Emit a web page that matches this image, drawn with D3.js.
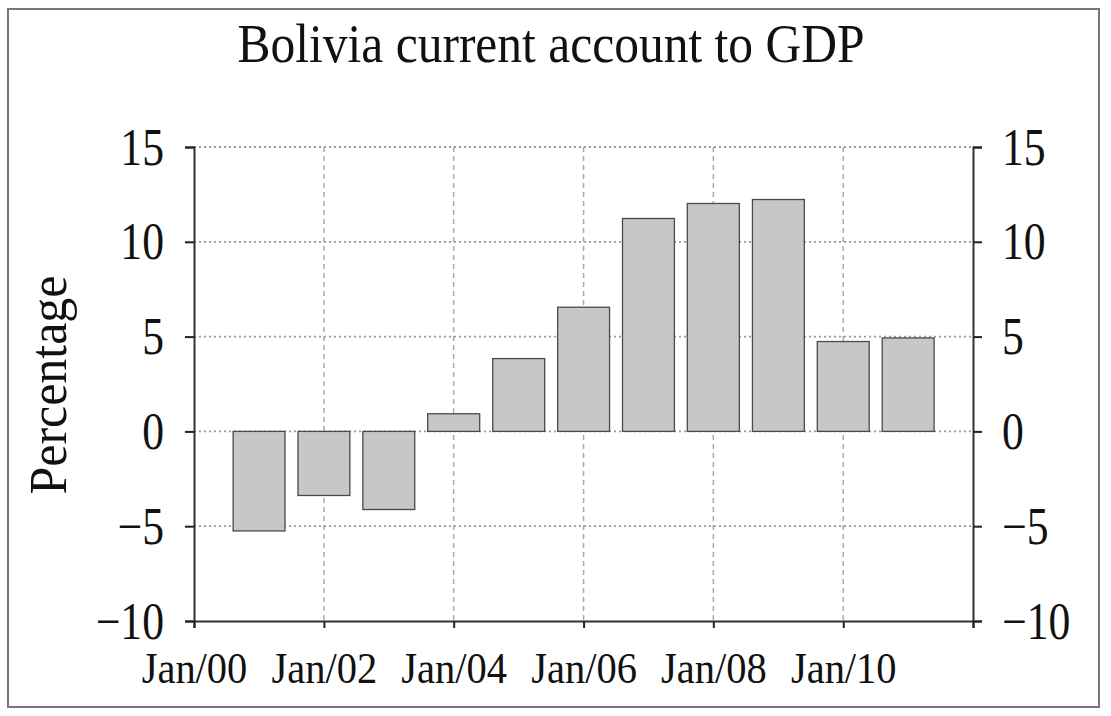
<!DOCTYPE html>
<html>
<head>
<meta charset="utf-8">
<script src="https://cdn.jsdelivr.net/npm/d3@7"></script>
<style>
  body { margin: 0; background: #fff; }
  text { font-family: "Liberation Serif", "Times New Roman", serif; fill: #111; }
</style>
</head>
<body>
<svg id="chart"></svg>
<script>
// data
const years = [2001, 2002, 2003, 2004, 2005, 2006, 2007, 2008, 2009, 2010, 2011];
const values = [-5.25, -3.38, -4.12, 0.93, 3.84, 6.55, 11.23, 12.02, 12.23, 4.74, 4.93];
const yTicks = [-10, -5, 0, 5, 10, 15];
const xTickYears = [2000, 2002, 2004, 2006, 2008, 2010, 2012];
const xLabelYears = [2000, 2002, 2004, 2006, 2008, 2010];

const width = 1111, height = 716;
const plotLeft = 194, plotRight = 973, plotTop = 147, plotBottom = 621;

const svg = d3.select("#chart")
    .attr("width", width)
    .attr("height", height);

// squeeze text horizontally, the source font is a condensed Times
function squeeze(sel, k) {
    sel.each(function () {
        const w = this.getComputedTextLength();
        d3.select(this).attr("textLength", w * k).attr("lengthAdjust", "spacingAndGlyphs");
    });
}

svg.append("rect")
    .attr("x", 8).attr("y", 9)
    .attr("width", 1091).attr("height", 698)
    .style("fill", "none")
    .style("stroke", "#777")
    .style("stroke-width", 2);

const x = d3.scaleTime()
    .domain([new Date(2000, 0, 1), new Date(2012, 0, 1)])
    .range([plotLeft, plotRight]);

const y = d3.scaleLinear()
    .domain([-10, 15])
    .range([plotBottom, plotTop]);

// grid
svg.append("g").selectAll("line")
    .data(yTicks.filter(d => d > -10))
    .enter().append("line")
    .attr("x1", plotLeft).attr("x2", plotRight)
    .attr("y1", d => y(d)).attr("y2", d => y(d))
    .style("stroke", "#999")
    .style("stroke-width", 1.8)
    .style("stroke-dasharray", "2,3");

svg.append("g").selectAll("line")
    .data(xTickYears.filter(d => d > 2000 && d < 2012))
    .enter().append("line")
    .attr("x1", d => x(new Date(d, 0, 1))).attr("x2", d => x(new Date(d, 0, 1)))
    .attr("y1", plotTop).attr("y2", plotBottom)
    .style("stroke", "#aaa")
    .style("stroke-width", 1.5)
    .style("stroke-dasharray", "5,4");

// bars
svg.append("g").selectAll("rect")
    .data(years.map((yr, i) => ({ yr, v: values[i] })))
    .enter().append("rect")
    .attr("x", d => {
        const c = x(new Date(d.yr, 0, 1));
        const w = 0.8 * (x(new Date(d.yr + 1, 0, 1)) - c);
        return c - w / 2;
    })
    .attr("width", d => 0.8 * (x(new Date(d.yr + 1, 0, 1)) - x(new Date(d.yr, 0, 1))))
    .attr("y", d => y(Math.max(0, d.v)))
    .attr("height", d => Math.abs(y(d.v) - y(0)))
    .style("fill", "#c7c7c6")
    .style("stroke", "#4a4a4a")
    .style("stroke-width", 1.3);

// axes
const fmtY = d => d < 0 ? "\u2212" + Math.abs(d) : String(d);

const yLeft = svg.append("g")
    .attr("transform", `translate(${plotLeft},0)`)
    .call(d3.axisLeft(y).tickValues(yTicks).tickSize(9).tickPadding(21).tickFormat(fmtY));

const yRight = svg.append("g")
    .attr("transform", `translate(${plotRight},0)`)
    .call(d3.axisRight(y).tickValues(yTicks).tickSize(9).tickPadding(20).tickFormat(fmtY));

const xAxis = svg.append("g")
    .attr("transform", `translate(0,${plotBottom})`)
    .call(d3.axisBottom(x)
        .tickValues(xTickYears.map(d => new Date(d, 0, 1)))
        .tickSize(7).tickPadding(24)
        .tickFormat(d => xLabelYears.includes(d.getFullYear()) ? d3.timeFormat("Jan/%y")(d) : ""));

[yLeft, yRight, xAxis].forEach(g => {
    g.select(".domain").style("stroke", "#333").style("stroke-width", 2);
    g.selectAll(".tick line").style("stroke", "#222").style("stroke-width", 2);
    g.selectAll("text").style("font-family", "Liberation Serif").style("fill", "#111");
});
yLeft.selectAll("text").style("font-size", "52px").attr("dy", "0.33em");
yRight.selectAll("text").style("font-size", "52px").attr("dy", "0.33em");
xAxis.selectAll("text").style("font-size", "44px");
squeeze(yLeft.selectAll("text"), 0.84);
squeeze(yRight.selectAll("text"), 0.84);
squeeze(xAxis.selectAll("text"), 0.92);

// title and axis label
svg.append("text")
    .attr("x", 551).attr("y", 62)
    .attr("text-anchor", "middle")
    .style("font-size", "55px")
    .text("Bolivia current account to GDP")
    .call(squeeze, 0.9);

svg.append("text")
    .attr("transform", "translate(66,385) rotate(-90)")
    .attr("text-anchor", "middle")
    .style("font-size", "52px")
    .text("Percentage")
    .call(squeeze, 0.96);
</script>
</body>
</html>
